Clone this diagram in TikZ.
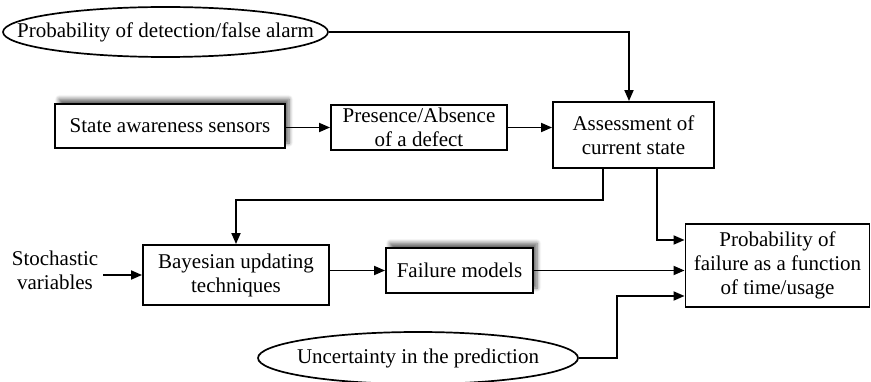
\documentclass[tikz,border=0pt]{standalone}
\usepackage{fontspec}
\setmainfont{Liberation Serif}
\usetikzlibrary{arrows.meta,shapes.geometric,shadows.blur}

\tikzset{
  block/.style={draw, line width=1.9pt, align=center, inner sep=2pt, fill=white},
  softshadow/.style={blur shadow={shadow xshift=4pt, shadow yshift=5pt, shadow blur radius=4pt, shadow blur steps=6, shadow opacity=60}},
  % negative xsep so that the minimum size sets the ellipse
  oval/.style={draw, ellipse, line width=1.7pt, inner xsep=-40pt, inner ysep=0pt},
  link/.style={line width=1.8pt, -{Triangle[length=11pt,width=9pt]}},
}

\begin{document}
\begin{tikzpicture}[x=1pt,y=-1pt,font=\fontsize{21}{24}\selectfont]
\useasboundingbox (0,0) rectangle (871,382);

% inputs drawn as ellipses
\node[oval, minimum width=325pt, minimum height=50pt] (pdetect) at (165.5,32) {Probability of detection/false alarm};
\node[oval, minimum width=320pt, minimum height=52pt] (uncert) at (418,358) {Uncertainty in the prediction};

% main blocks
\node[block, softshadow, minimum width=230pt, minimum height=44pt] (sensors) at (170,126) {State awareness sensors};
\node[block, minimum width=176pt, minimum height=45pt] (defect) at (419,127.5) {Presence/Absence\\of a defect};
\node[block, minimum width=161pt, minimum height=66pt] (assess) at (633.5,135) {Assessment of\\current state};
\node[block, minimum width=186pt, minimum height=60pt] (bayes) at (236,275) {Bayesian updating\\techniques};
\node[block, softshadow, minimum width=147pt, minimum height=45pt] (failmod) at (459.5,270.5) {Failure models};
\node[block, minimum width=184pt, minimum height=83pt] (pfail) at (777.5,265.5) {Probability of\\failure as a function\\of time/usage};
\node[align=center, inner sep=0pt] (stoch) at (55,270) {Stochastic\\variables};

% connectors
\draw[link] (pdetect.east) -| ([xshift=-4.5pt]assess.north);
\draw[link] (sensors.east |- defect.west) -- (defect.west);
\draw[link] (defect.east) -- (defect.east -| assess.west);
\draw[link] ([xshift=-30.5pt]assess.south) -- ++(0,31) -| (bayes.north);
\draw[link] ([xshift=23.5pt]assess.south) |- ([yshift=25.5pt]pfail.west);
\draw[link] ([xshift=5pt]stoch.east |- bayes.west) -- (bayes.west);
\draw[link] (bayes.east |- failmod.east) -- (failmod.west);
\draw[link] (failmod.east) -- (failmod.east -| pfail.west);
\draw[link] (uncert.east) -- ++(38,0) |- ([yshift=-30.5pt]pfail.west);
\end{tikzpicture}
\end{document}
